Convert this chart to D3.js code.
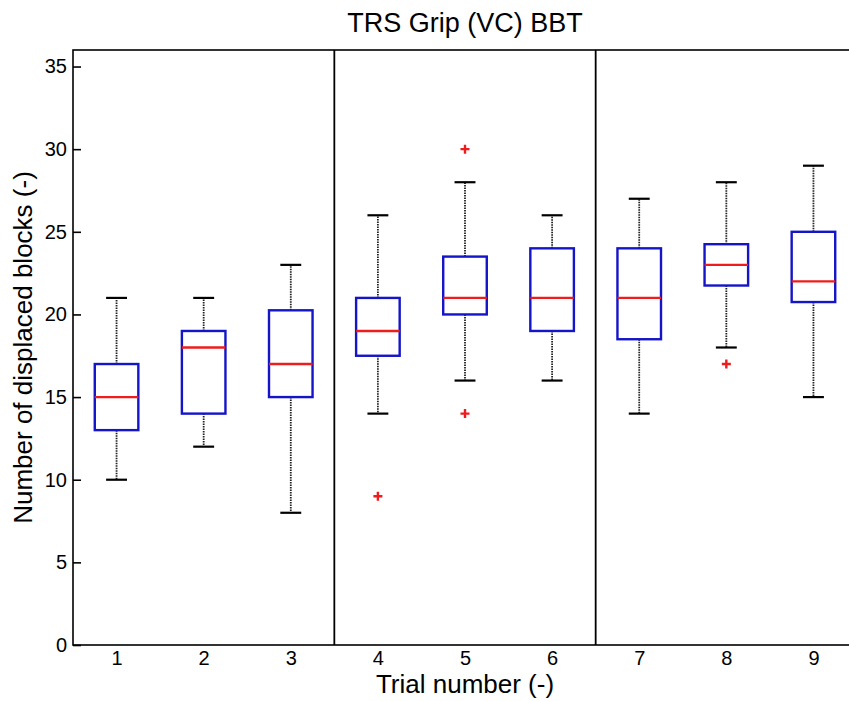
<!DOCTYPE html>
<html>

<head>
  <title>TRS Grip (VC) BBT</title>
  <script src="https://cdn.jsdelivr.net/npm/d3@7"></script>
  <style>
    body { margin: 0; background: #fff; }
    text { font-family: "Liberation Sans", Arial, sans-serif; fill: #000; }
  </style>
</head>

<body>
  <div id="chart"></div>

  <script>
    // values
    const trials = [1, 2, 3, 4, 5, 6, 7, 8, 9]
    const whiskerLow = [10, 12, 8, 14, 16, 16, 14, 18, 15]
    const q1 = [13, 14, 15, 17.5, 20, 19, 18.5, 21.75, 20.75]
    const medians = [15, 18, 17, 19, 21, 21, 21, 23, 22]
    const q3 = [17, 19, 20.25, 21, 23.5, 24, 24, 24.25, 25]
    const whiskerHigh = [21, 21, 23, 26, 28, 26, 27, 28, 29]
    const outliers = [[], [], [], [9], [30, 14], [], [], [17], []]
    const separators = [3.5, 6.5]
    const yTicks = [0, 5, 10, 15, 20, 25, 30, 35]

    const width = 849
    const height = 701
    const margin = { left: 73, right: -8, top: 50, bottom: 56 }

    const x = d3.scaleLinear()
      .domain([0.5, 9.5])
      .range([margin.left, width - margin.right])

    const y = d3.scaleLinear()
      .domain([0, 36])
      .range([height - margin.bottom, margin.top])

    const svg = d3.select("#chart")
      .append("svg")
      .attr("width", width)
      .attr("height", height)

    const boxes = trials.map((t, i) => ({
      trial: t,
      lo: whiskerLow[i],
      q1: q1[i],
      med: medians[i],
      q3: q3[i],
      hi: whiskerHigh[i],
      out: outliers[i]
    }))

    const boxW = x(1.25) - x(1)
    const capW = x(1.12) - x(1)

    // axes frame
    const x0 = x.range()[0], x1 = x.range()[1]
    const y0 = y.range()[0], y1 = y.range()[1]

    svg.append("rect")
      .attr("x", x0)
      .attr("y", y1)
      .attr("width", x1 - x0)
      .attr("height", y0 - y1)
      .attr("fill", "none")
      .attr("stroke", "#000")
      .attr("stroke-width", 1.6)

    svg.append("g")
      .selectAll("line")
      .data(separators)
      .enter()
      .append("line")
      .attr("x1", d => x(d))
      .attr("x2", d => x(d))
      .attr("y1", y1)
      .attr("y2", y0)
      .attr("stroke", "#000")
      .attr("stroke-width", 1.8)

    const yAxis = d3.axisLeft(y)
      .tickValues(yTicks)
      .tickSizeInner(-8)
      .tickSizeOuter(0)
      .tickPadding(6)

    const yAxisG = svg.append("g")
      .attr("transform", `translate(${x0},0)`)
      .call(yAxis)
    yAxisG.select(".domain").remove()
    yAxisG.selectAll(".tick line").attr("stroke-width", 1.6)
    yAxisG.selectAll(".tick text")
      .attr("font-size", 20)
      .attr("font-family", "Liberation Sans, Arial, sans-serif")
      .attr("fill", "#000")

    const yAxisR = svg.append("g")
      .attr("transform", `translate(${x1},0)`)
      .call(d3.axisRight(y).tickValues(yTicks).tickSizeInner(-8).tickSizeOuter(0).tickFormat(""))
    yAxisR.select(".domain").remove()

    const xAxisG = svg.append("g")
      .attr("transform", `translate(0,${y0})`)
      .call(d3.axisBottom(x).tickValues(trials).tickSize(0).tickPadding(6).tickFormat(d3.format("d")))
    xAxisG.select(".domain").remove()
    xAxisG.selectAll(".tick text")
      .attr("font-size", 20)
      .attr("font-family", "Liberation Sans, Arial, sans-serif")
      .attr("fill", "#000")

    // boxplots
    const g = svg.append("g")
      .selectAll("g")
      .data(boxes)
      .enter()
      .append("g")

    g.append("line")
      .attr("x1", d => x(d.trial))
      .attr("x2", d => x(d.trial))
      .attr("y1", d => y(d.q3))
      .attr("y2", d => y(d.hi))
      .attr("stroke", "#222")
      .attr("stroke-width", 1.8)
      .attr("stroke-dasharray", "1.5,1")

    g.append("line")
      .attr("x1", d => x(d.trial))
      .attr("x2", d => x(d.trial))
      .attr("y1", d => y(d.q1))
      .attr("y2", d => y(d.lo))
      .attr("stroke", "#222")
      .attr("stroke-width", 1.8)
      .attr("stroke-dasharray", "1.5,1")

    g.selectAll(".cap")
      .data(d => [d.lo, d.hi].map(v => ({ trial: d.trial, v: v })))
      .enter()
      .append("line")
      .attr("class", "cap")
      .attr("x1", d => x(d.trial) - capW)
      .attr("x2", d => x(d.trial) + capW)
      .attr("y1", d => y(d.v))
      .attr("y2", d => y(d.v))
      .attr("stroke", "#000")
      .attr("stroke-width", 2.2)

    g.append("rect")
      .attr("x", d => x(d.trial) - boxW)
      .attr("y", d => y(d.q3))
      .attr("width", boxW * 2)
      .attr("height", d => y(d.q1) - y(d.q3))
      .attr("fill", "none")
      .attr("stroke", "#1414c8")
      .attr("stroke-width", 2.4)

    g.append("line")
      .attr("x1", d => x(d.trial) - boxW)
      .attr("x2", d => x(d.trial) + boxW)
      .attr("y1", d => y(d.med))
      .attr("y2", d => y(d.med))
      .attr("stroke", "#ee1c1c")
      .attr("stroke-width", 2.4)

    g.selectAll(".outlier")
      .data(d => d.out.map(v => ({ trial: d.trial, v: v })))
      .enter()
      .append("path")
      .attr("class", "outlier")
      .attr("d", d => {
        const cx = x(d.trial), cy = y(d.v), s = 4.5
        return `M${cx - s},${cy}H${cx + s}M${cx},${cy - s}V${cy + s}`
      })
      .attr("stroke", "#ee1c1c")
      .attr("stroke-width", 2.4)

    // labels
    svg.append("text")
      .attr("x", (x0 + x1) / 2)
      .attr("y", 32)
      .attr("text-anchor", "middle")
      .attr("font-size", 27)
      .text("TRS Grip (VC) BBT")

    svg.append("text")
      .attr("x", (x0 + x1) / 2)
      .attr("y", 693)
      .attr("text-anchor", "middle")
      .attr("font-size", 26)
      .text("Trial number (-)")

    svg.append("text")
      .attr("transform", `translate(32,${(y0 + y1) / 2}) rotate(-90)`)
      .attr("text-anchor", "middle")
      .attr("font-size", 26)
      .text("Number of displaced blocks (-)")
  </script>
</body>

</html>
